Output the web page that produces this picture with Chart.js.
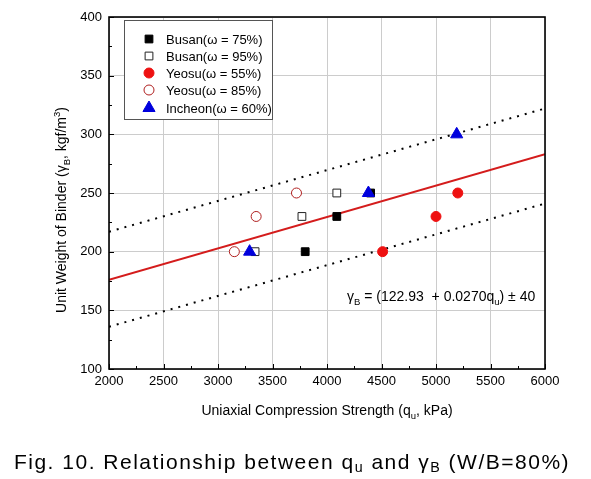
<!DOCTYPE html>
<html>
<head>
<meta charset="utf-8">
<script src="https://cdn.jsdelivr.net/npm/chart.js@4.4.0/dist/chart.umd.min.js"></script>
<style>
    body { margin: 0; background: #fff; }
    #wrap { width: 591px; height: 479px; position: relative; }
</style>
</head>
<body>
<div id="wrap"><canvas id="chart"></canvas></div>
<script>
// data (x = qu in kPa, y = unit weight kgf/m3)
const busan75X = [3800, 4090, 4400];
const busan75Y = [200, 230, 250];
const busan95X = [3340, 3770, 4090];
const busan95Y = [200, 230, 250];
const yeosu55X = [4510, 5000, 5200];
const yeosu55Y = [200, 230, 250];
const yeosu85X = [3150, 3350, 3720];
const yeosu85Y = [200, 230, 250];
const incheonX = [3290, 4380, 5190];
const incheonY = [200, 250, 300];

// regression line and +-40 band end points
const fitX = [2000, 6000];
const fitY = [176, 283];
const upperY = [217, 322];
const lowerY = [136, 241];

const seriesLabels = ['Busan(ω = 75%)', 'Busan(ω = 95%)', 'Yeosu(ω = 55%)', 'Yeosu(ω = 85%)', 'Incheon(ω = 60%)'];

const FONT = "'Liberation Sans', Arial, sans-serif";

const toPoints = (xs, ys) => xs.map((x, i) => ({ x: x, y: ys[i] }));

// draws text with sub/superscript parts
function drawRich(ctx, parts, x, y, size, align, spacing, subDrop) {
    const small = size * 0.68;
    const drop = subDrop === undefined ? 0.28 : subDrop;
    ctx.letterSpacing = (spacing || 0) + 'px';
    let total = 0;
    parts.forEach(p => {
        ctx.font = (p.sub || p.sup ? small : size) + 'px ' + FONT;
        total += ctx.measureText(p.t).width;
    });
    let cx = align === 'center' ? x - total / 2 : x;
    ctx.textBaseline = 'alphabetic';
    ctx.textAlign = 'left';
    parts.forEach(p => {
        ctx.font = (p.sub || p.sup ? small : size) + 'px ' + FONT;
        let dy = 0;
        if (p.sub) dy = size * drop;
        if (p.sup) dy = -size * 0.42;
        ctx.fillText(p.t, cx, y + dy);
        cx += ctx.measureText(p.t).width;
    });
    ctx.letterSpacing = '0px';
}

const decorPlugin = {
    id: 'decor',
    afterDraw(chart) {
        const ctx = chart.ctx;
        const area = chart.chartArea;
        const xs = chart.scales.x;
        const ys = chart.scales.y;
        ctx.save();
        ctx.fillStyle = '#000';
        ctx.strokeStyle = '#000';

        // inward tick marks
        ctx.lineWidth = 1;
        ctx.beginPath();
        for (let v = 2000; v <= 6000; v += 250) {
            const px = Math.round(xs.getPixelForValue(v)) + 0.5;
            const len = v % 500 === 0 ? 5 : 3;
            ctx.moveTo(px, area.bottom);
            ctx.lineTo(px, area.bottom - len);
        }
        for (let v = 100; v <= 400; v += 25) {
            const py = Math.round(ys.getPixelForValue(v)) + 0.5;
            const len = v % 50 === 0 ? 5 : 3;
            ctx.moveTo(area.left, py);
            ctx.lineTo(area.left + len, py);
        }
        ctx.stroke();

        // plot frame
        ctx.lineWidth = 1.6;
        ctx.strokeRect(area.left, area.top, area.right - area.left, area.bottom - area.top);

        // legend box
        const lx = 124, ly = 20, lw = 148, lh = 99;
        ctx.fillStyle = '#fff';
        ctx.fillRect(lx, ly, lw, lh);
        ctx.strokeStyle = '#555';
        ctx.lineWidth = 1;
        ctx.strokeRect(lx + 0.5, ly + 0.5, lw, lh);
        const rowY = [39, 56, 73, 90, 108];
        seriesLabels.forEach((label, i) => {
            const ds = chart.data.datasets[i];
            ctx.fillStyle = ds.backgroundColor;
            ctx.strokeStyle = ds.borderColor;
            ctx.lineWidth = ds.borderWidth;
            Chart.helpers.drawPoint(ctx, {
                pointStyle: ds.pointStyle,
                radius: ds.pointRadius,
                rotation: 0,
                borderWidth: ds.borderWidth
            }, 149, rowY[i]);
            ctx.fillStyle = '#000';
            ctx.font = '13px ' + FONT;
            ctx.textAlign = 'left';
            ctx.textBaseline = 'middle';
            ctx.fillText(label, 166, rowY[i] + 1);
        });

        // equation
        ctx.fillStyle = '#000';
        drawRich(ctx, [
            { t: 'γ' }, { t: 'B', sub: true },
            { t: ' = (122.93  + 0.0270q' }, { t: 'u', sub: true },
            { t: ') ± 40' }
        ], 347, 301, 14, 'left');

        // axis titles
        drawRich(ctx, [
            { t: 'Uniaxial Compression Strength (q' }, { t: 'u', sub: true }, { t: ', kPa)' }
        ], (area.left + area.right) / 2, 415, 14, 'center');

        ctx.save();
        ctx.translate(66, 210);
        ctx.rotate(-Math.PI / 2);
        drawRich(ctx, [
            { t: 'Unit Weight of Binder (γ' }, { t: 'B', sub: true },
            { t: ', kgf/m' }, { t: '3', sup: true }, { t: ')' }
        ], 0, 0, 14, 'center');
        ctx.restore();

        // caption
        drawRich(ctx, [
            { t: 'Fig. 10. Relationship between q' }, { t: 'u', sub: true },
            { t: ' and γ' }, { t: 'B', sub: true }, { t: ' (W/B=80%)' }
        ], 292, 469, 21, 'center', 1.5, 0.12);

        ctx.restore();
    }
};

const ctx = document.getElementById('chart').getContext('2d');
new Chart(ctx, {
    type: 'scatter',
    data: {
        datasets: [
            {
                label: seriesLabels[0], data: toPoints(busan75X, busan75Y), order: 4,
                pointStyle: 'rect', pointRadius: 5.5, backgroundColor: '#000', borderColor: '#000', borderWidth: 1
            },
            {
                label: seriesLabels[1], data: toPoints(busan95X, busan95Y), order: 3,
                pointStyle: 'rect', pointRadius: 5.5, backgroundColor: '#fff', borderColor: '#222', borderWidth: 1
            },
            {
                label: seriesLabels[2], data: toPoints(yeosu55X, yeosu55Y), order: 2,
                pointStyle: 'circle', pointRadius: 5, backgroundColor: '#ee1111', borderColor: '#ee1111', borderWidth: 1
            },
            {
                label: seriesLabels[3], data: toPoints(yeosu85X, yeosu85Y), order: 1,
                pointStyle: 'circle', pointRadius: 5, backgroundColor: '#fff', borderColor: '#b02020', borderWidth: 1
            },
            {
                label: seriesLabels[4], data: toPoints(incheonX, incheonY), order: 0,
                pointStyle: 'triangle', pointRadius: 7, backgroundColor: '#0000dd', borderColor: '#0000dd', borderWidth: 1
            },
            {
                label: 'fit', data: toPoints(fitX, fitY), order: 10, showLine: true,
                pointRadius: 0, borderColor: '#d41c1c', borderWidth: 2
            },
            {
                label: 'upper', data: toPoints(fitX, upperY), order: 11, showLine: true,
                pointRadius: 0, borderColor: '#000', borderWidth: 2, borderDash: [2, 6]
            },
            {
                label: 'lower', data: toPoints(fitX, lowerY), order: 12, showLine: true,
                pointRadius: 0, borderColor: '#000', borderWidth: 2, borderDash: [2, 6]
            }
        ]
    },
    options: {
        responsive: true,
        maintainAspectRatio: false,
        animation: false,
        layout: { padding: { left: 0, right: 46, top: 17, bottom: 0 } },
        plugins: {
            legend: { display: false },
            tooltip: { enabled: false }
        },
        scales: {
            x: {
                type: 'linear',
                min: 2000,
                max: 6000,
                afterFit: (s) => { s.height = 110; },
                ticks: {
                    stepSize: 500, padding: 5, color: '#000', font: { size: 13, family: FONT },
                    callback: (v) => String(v)
                },
                grid: { color: '#cccccc', drawTicks: false },
                border: { display: false }
            },
            y: {
                type: 'linear',
                min: 100,
                max: 400,
                afterFit: (s) => { s.width = 109; },
                ticks: { stepSize: 50, padding: 7, color: '#000', font: { size: 13, family: FONT } },
                grid: { color: '#cccccc', drawTicks: false },
                border: { display: false }
            }
        }
    },
    plugins: [decorPlugin]
});
</script>
</body>
</html>
